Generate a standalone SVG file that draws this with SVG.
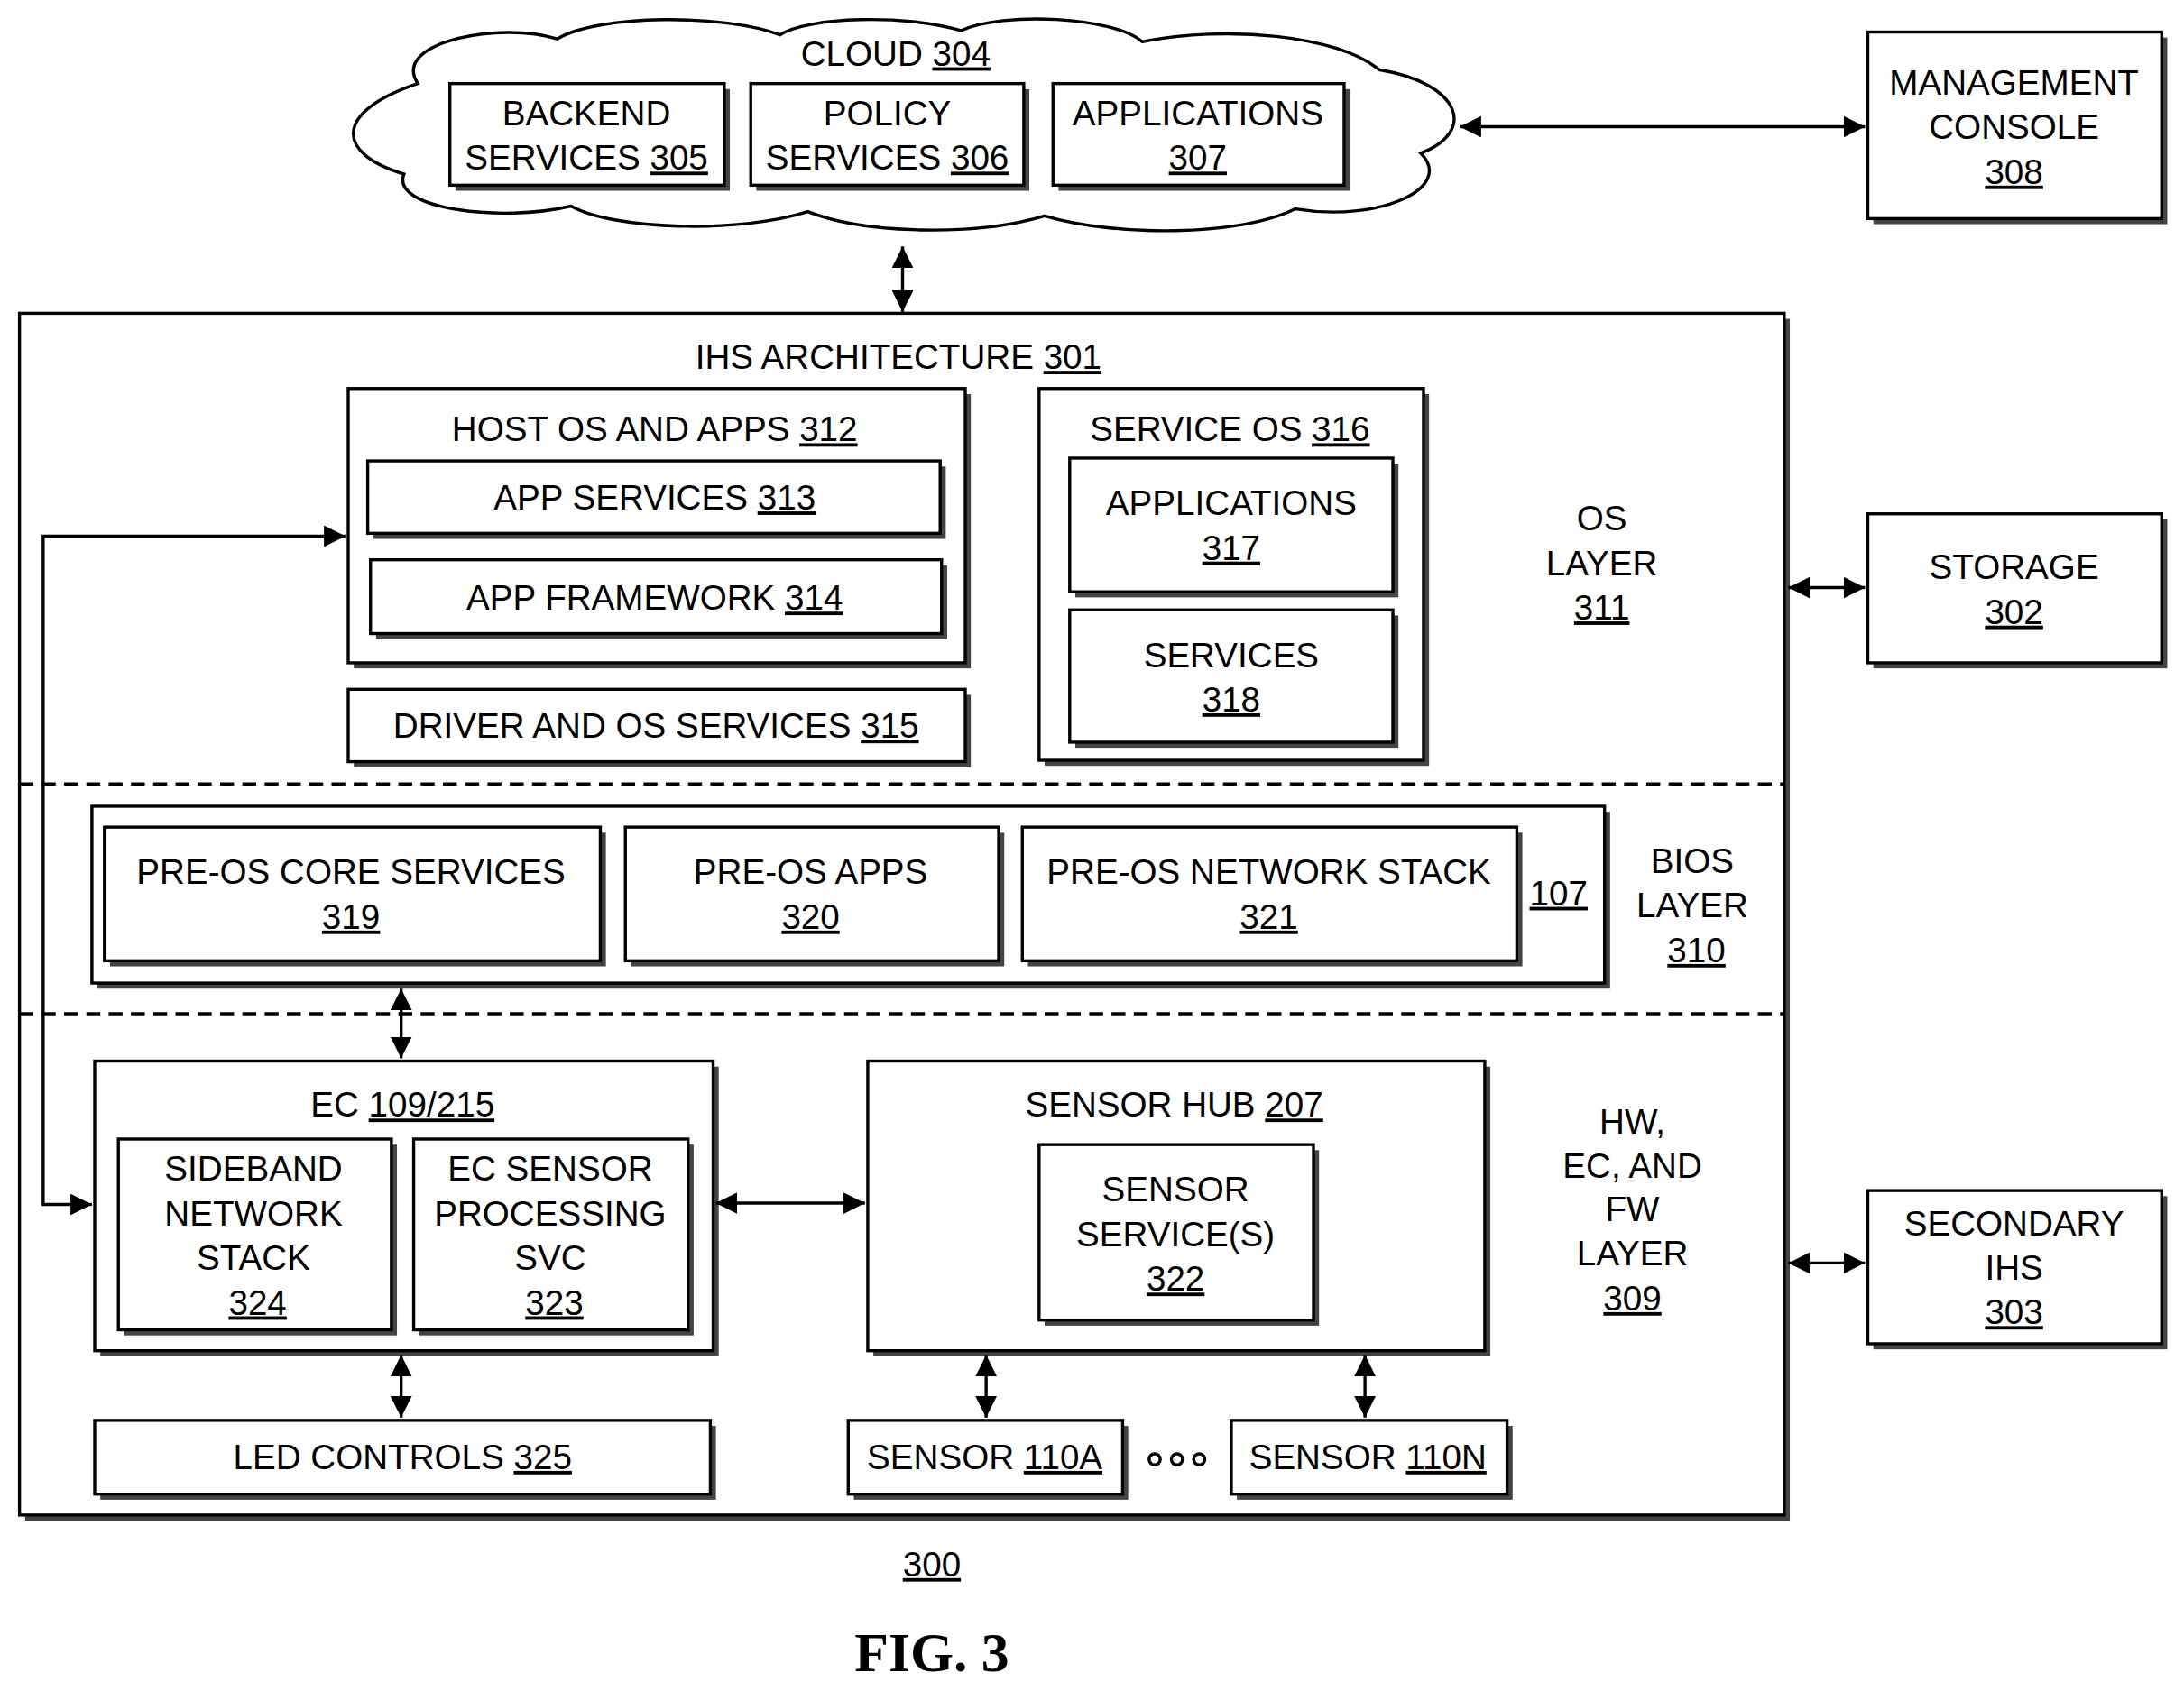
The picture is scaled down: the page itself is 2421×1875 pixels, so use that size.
<svg xmlns="http://www.w3.org/2000/svg" width="2421" height="1875" viewBox="0 0 2421 1875">
<style>
.b{fill:#fff;stroke:#000;stroke-width:2.2}
.s{fill:#444}
.t{font-family:"Liberation Sans Narrow","Liberation Sans",Arial,sans-serif;font-size:25px;text-anchor:middle;fill:#000}
.u{text-decoration:underline}
.l{stroke:#000;stroke-width:2.2;fill:none}
.d{stroke:#000;stroke-width:2.2;stroke-dasharray:10 6;fill:none}
</style>
<defs>
<marker id="a" viewBox="0 0 10 10" refX="10" refY="5" markerWidth="7" markerHeight="7" orient="auto-start-reverse"><path d="M0,0L10,5L0,10z" fill="#000"/></marker>
</defs>
<rect width="2421" height="1875" fill="#fff"/>
<g transform="scale(1.544)">
<g id="cloud">
<path class="b" d="M300,60 C280,30 360,15 400,28 C430,10 520,10 560,25 C580,12 650,10 690,22 C720,8 800,12 820,30 C880,18 960,25 990,50 C1050,60 1060,95 1020,110 C1045,135 990,160 930,150 C890,170 800,170 750,155 C700,170 620,168 580,152 C530,168 440,165 410,148 C360,160 280,150 290,125 C240,110 240,80 300,60z"/>
<text class="t" x="643" y="47">CLOUD <tspan class="u">304</tspan></text>
</g>
<g id="n305"><rect class="s" x="327" y="64" width="197" height="73"/><rect class="b" x="323" y="60" width="197" height="73"/><text class="t" x="421" y="90">BACKEND</text><text class="t" x="421" y="122">SERVICES <tspan class="u">305</tspan></text></g>
<g id="n306"><rect class="s" x="543" y="64" width="196" height="73"/><rect class="b" x="539" y="60" width="196" height="73"/><text class="t" x="637" y="90">POLICY</text><text class="t" x="637" y="122">SERVICES <tspan class="u">306</tspan></text></g>
<g id="n307"><rect class="s" x="760" y="64" width="209" height="73"/><rect class="b" x="756" y="60" width="209" height="73"/><text class="t" x="860" y="90">APPLICATIONS</text><text class="t" x="860" y="122" ><tspan class="u">307</tspan></text></g>
<g id="n308"><rect class="s" x="1345" y="27" width="211" height="134"/><rect class="b" x="1341" y="23" width="211" height="134"/><text class="t" x="1446" y="68">MANAGEMENT</text><text class="t" x="1446" y="100">CONSOLE</text><text class="t" x="1446" y="132"><tspan class="u">308</tspan></text></g>
<g id="n301"><rect class="s" x="18" y="229" width="1267" height="863"/><rect class="b" x="14" y="225" width="1267" height="863"/><text class="t" x="645" y="265">IHS ARCHITECTURE <tspan class="u">301</tspan></text></g>
<g id="n312"><rect class="s" x="254" y="283" width="443" height="197"/><rect class="b" x="250" y="279" width="443" height="197"/><text class="t" x="470" y="317">HOST OS AND APPS <tspan class="u">312</tspan></text></g>
<g id="n313"><rect class="s" x="268" y="335" width="411" height="52"/><rect class="b" x="264" y="331" width="411" height="52"/><text class="t" x="470" y="366">APP SERVICES <tspan class="u">313</tspan></text></g>
<g id="n314"><rect class="s" x="270" y="406" width="410" height="53"/><rect class="b" x="266" y="402" width="410" height="53"/><text class="t" x="470" y="438">APP FRAMEWORK <tspan class="u">314</tspan></text></g>
<g id="n315"><rect class="s" x="254" y="499" width="443" height="52"/><rect class="b" x="250" y="495" width="443" height="52"/><text class="t" x="471" y="530">DRIVER AND OS SERVICES <tspan class="u">315</tspan></text></g>
<g id="n316"><rect class="s" x="750" y="283" width="276" height="267"/><rect class="b" x="746" y="279" width="276" height="267"/><text class="t" x="883" y="317">SERVICE OS <tspan class="u">316</tspan></text></g>
<g id="n317"><rect class="s" x="772" y="333" width="232" height="96"/><rect class="b" x="768" y="329" width="232" height="96"/><text class="t" x="884" y="370">APPLICATIONS</text><text class="t" x="884" y="402"><tspan class="u">317</tspan></text></g>
<g id="n318"><rect class="s" x="772" y="442" width="232" height="95"/><rect class="b" x="768" y="438" width="232" height="95"/><text class="t" x="884" y="479">SERVICES</text><text class="t" x="884" y="511"><tspan class="u">318</tspan></text></g>
<g id="n311"><text class="t" x="1150" y="381">OS</text><text class="t" x="1150" y="413">LAYER</text><text class="t" x="1150" y="445"><tspan class="u">311</tspan></text></g>
<g id="n302"><rect class="s" x="1345" y="373" width="211" height="107"/><rect class="b" x="1341" y="369" width="211" height="107"/><text class="t" x="1446" y="416">STORAGE</text><text class="t" x="1446" y="448"><tspan class="u">302</tspan></text></g>
<g id="n107"><rect class="s" x="70" y="583" width="1086" height="127"/><rect class="b" x="66" y="579" width="1086" height="127"/><text class="t" x="1119" y="650"><tspan class="u">107</tspan></text></g>
<g id="n319"><rect class="s" x="79" y="598" width="356" height="96"/><rect class="b" x="75" y="594" width="356" height="96"/><text class="t" x="252" y="635">PRE-OS CORE SERVICES</text><text class="t" x="252" y="667"><tspan class="u">319</tspan></text></g>
<g id="n320"><rect class="s" x="453" y="598" width="268" height="96"/><rect class="b" x="449" y="594" width="268" height="96"/><text class="t" x="582" y="635">PRE-OS APPS</text><text class="t" x="582" y="667"><tspan class="u">320</tspan></text></g>
<g id="n321"><rect class="s" x="738" y="598" width="355" height="96"/><rect class="b" x="734" y="594" width="355" height="96"/><text class="t" x="911" y="635">PRE-OS NETWORK STACK</text><text class="t" x="911" y="667"><tspan class="u">321</tspan></text></g>
<g id="n310"><text class="t" x="1215" y="627">BIOS</text><text class="t" x="1215" y="659">LAYER</text><text class="t" x="1218" y="691"><tspan class="u">310</tspan></text></g>
<g id="nEC"><rect class="s" x="72" y="766" width="444" height="208"/><rect class="b" x="68" y="762" width="444" height="208"/><text class="t" x="289" y="802">EC <tspan class="u">109/215</tspan></text></g>
<g id="n324"><rect class="s" x="89" y="822" width="196" height="137"/><rect class="b" x="85" y="818" width="196" height="137"/><text class="t" x="182" y="848">SIDEBAND</text><text class="t" x="182" y="880">NETWORK</text><text class="t" x="182" y="912">STACK</text><text class="t" x="185" y="944"><tspan class="u">324</tspan></text></g>
<g id="n323"><rect class="s" x="301" y="822" width="197" height="137"/><rect class="b" x="297" y="818" width="197" height="137"/><text class="t" x="395" y="848">EC SENSOR</text><text class="t" x="395" y="880">PROCESSING</text><text class="t" x="395" y="912">SVC</text><text class="t" x="398" y="944"><tspan class="u">323</tspan></text></g>
<g id="n207"><rect class="s" x="627" y="766" width="443" height="208"/><rect class="b" x="623" y="762" width="443" height="208"/><text class="t" x="843" y="802">SENSOR HUB <tspan class="u">207</tspan></text></g>
<g id="n322"><rect class="s" x="750" y="826" width="197" height="126"/><rect class="b" x="746" y="822" width="197" height="126"/><text class="t" x="844" y="863">SENSOR</text><text class="t" x="844" y="895">SERVICE(S)</text><text class="t" x="844" y="927"><tspan class="u">322</tspan></text></g>
<g id="n309"><text class="t" x="1172" y="814">HW,</text><text class="t" x="1172" y="846">EC, AND</text><text class="t" x="1172" y="877">FW</text><text class="t" x="1172" y="909">LAYER</text><text class="t" x="1172" y="941"><tspan class="u">309</tspan></text></g>
<g id="n303"><rect class="s" x="1345" y="859" width="211" height="110"/><rect class="b" x="1341" y="855" width="211" height="110"/><text class="t" x="1446" y="887">SECONDARY</text><text class="t" x="1446" y="919">IHS</text><text class="t" x="1446" y="951"><tspan class="u">303</tspan></text></g>
<g id="n325"><rect class="s" x="72" y="1024" width="442" height="53"/><rect class="b" x="68" y="1020" width="442" height="53"/><text class="t" x="289" y="1055">LED CONTROLS  <tspan class="u">325</tspan></text></g>
<g id="n110A"><rect class="s" x="613" y="1024" width="197" height="53"/><rect class="b" x="609" y="1020" width="197" height="53"/><text class="t" x="707" y="1055">SENSOR <tspan class="u">110A</tspan></text></g>
<g id="dots"><circle cx="829" cy="1048" r="4" class="l"/><circle cx="845" cy="1048" r="4" class="l"/><circle cx="861" cy="1048" r="4" class="l"/></g>
<g id="n110N"><rect class="s" x="888" y="1024" width="198" height="53"/><rect class="b" x="884" y="1020" width="198" height="53"/><text class="t" x="982" y="1055">SENSOR <tspan class="u">110N</tspan></text></g>
<g id="n300"><text class="t" x="669" y="1132"><tspan class="u">300</tspan></text></g>
<text x="669" y="1200" style="font-family:'Liberation Serif',serif;font-weight:bold;font-size:40px;text-anchor:middle">FIG. 3</text>
<g id="connectors">
<line class="d" x1="14" y1="563" x2="1281" y2="563"/>
<line class="d" x1="14" y1="728" x2="1281" y2="728"/>
<line class="l" x1="1048" y1="91" x2="1339" y2="91" marker-start="url(#a)" marker-end="url(#a)"/>
<line class="l" x1="648" y1="177" x2="648" y2="224" marker-start="url(#a)" marker-end="url(#a)"/>
<line class="l" x1="1284" y1="422" x2="1339" y2="422" marker-start="url(#a)" marker-end="url(#a)"/>
<line class="l" x1="1284" y1="907" x2="1339" y2="907" marker-start="url(#a)" marker-end="url(#a)"/>
<line class="l" x1="288" y1="710" x2="288" y2="760" marker-start="url(#a)" marker-end="url(#a)"/>
<line class="l" x1="514" y1="864" x2="621" y2="864" marker-start="url(#a)" marker-end="url(#a)"/>
<line class="l" x1="288" y1="973" x2="288" y2="1018" marker-start="url(#a)" marker-end="url(#a)"/>
<line class="l" x1="708" y1="973" x2="708" y2="1018" marker-start="url(#a)" marker-end="url(#a)"/>
<line class="l" x1="980" y1="973" x2="980" y2="1018" marker-start="url(#a)" marker-end="url(#a)"/>
<path class="l" d="M248,385 H31 V865 H66" marker-start="url(#a)" marker-end="url(#a)"/>
</g>
</g>
</svg>
